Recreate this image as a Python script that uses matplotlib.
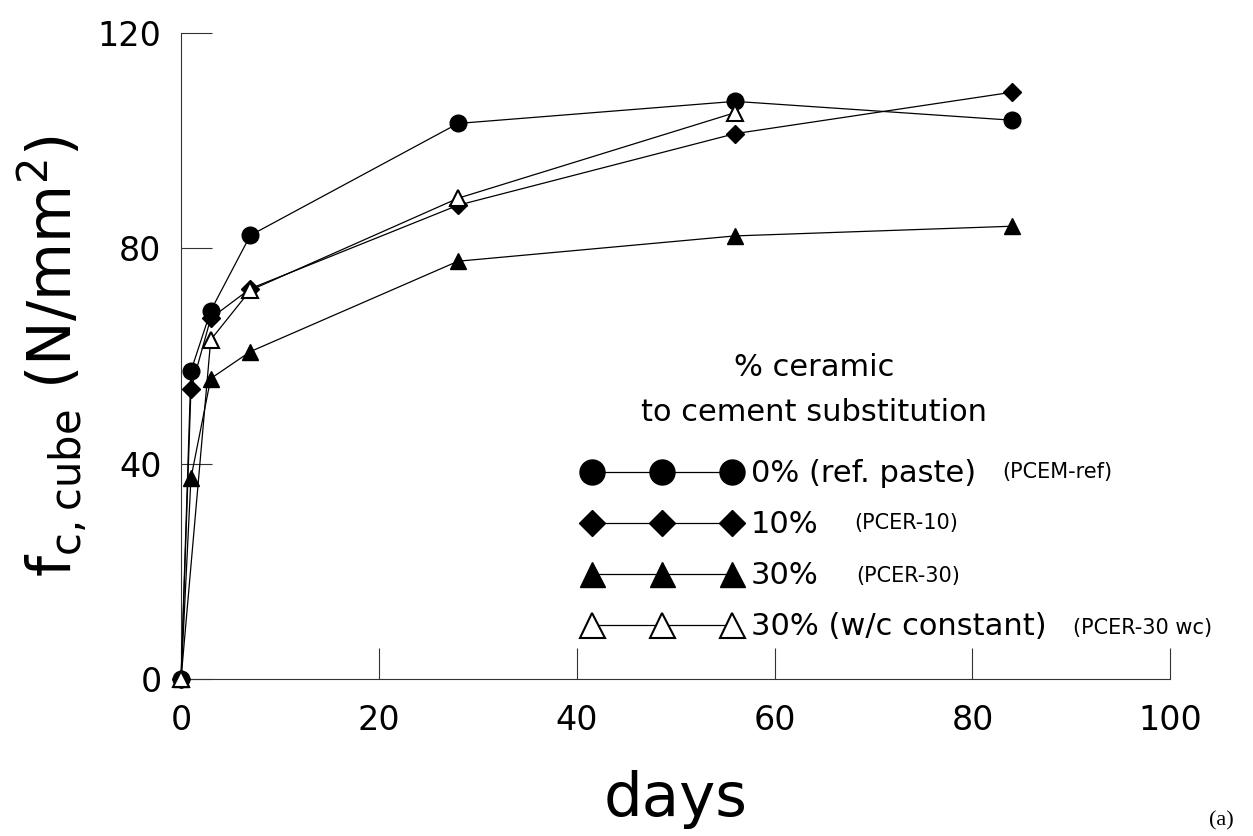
import matplotlib
matplotlib.use("Agg")
import matplotlib.pyplot as plt

# compressive strength vs age
days_ref = [0, 1, 3, 7, 28, 56, 84]
fc_ref = [0, 57.2, 68.4, 82.4, 103.2, 107.3, 103.8]

days_10 = [0, 1, 3, 7, 28, 56, 84]
fc_10 = [0, 53.8, 67.0, 72.5, 88.0, 101.3, 109.0]

days_30 = [0, 1, 3, 7, 28, 56, 84]
fc_30 = [0, 37.3, 55.8, 60.8, 77.6, 82.3, 84.1]

days_30wc = [0, 3, 7, 28, 56]
fc_30wc = [0, 63.0, 72.2, 89.3, 105.2]

labels = ["0% (ref. paste)", "10%", "30%", "30% (w/c constant)"]
codes = ["(PCEM-ref)", "(PCER-10)", "(PCER-30)", "(PCER-30 wc)"]

plt.rcParams['font.family'] = ['DejaVu Sans']
fig = plt.figure(figsize=(12.53, 8.36), dpi=100)
ax = fig.add_axes([0.1445, 0.188, 0.7895, 0.7725])

kw = dict(color='black', linewidth=0.9, clip_on=False, zorder=3)
l1, = ax.plot(days_ref, fc_ref, marker='o', markersize=12, **kw)
l2, = ax.plot(days_10, fc_10, marker='D', markersize=9, **kw)
l3, = ax.plot(days_30, fc_30, marker='^', markersize=12, **kw)
l4, = ax.plot(days_30wc, fc_30wc, marker='^', markersize=12,
              markerfacecolor='white', markeredgewidth=1.5, **kw)

ax.set_xlim(0, 100)
ax.set_ylim(0, 120)
ax.set_xticks([0, 20, 40, 60, 80, 100])
ax.set_yticks([0, 40, 80, 120])
ax.spines['top'].set_visible(False)
ax.spines['right'].set_visible(False)
for s in ['left', 'bottom']:
    ax.spines[s].set_color('#333333')
    ax.spines[s].set_linewidth(0.8)
ax.tick_params(axis='both', direction='in', length=22, width=0.8,
               color='#333333', labelsize=24)
ax.tick_params(axis='x', pad=18)
ax.tick_params(axis='y', pad=14)

ax.set_xlabel('days', fontsize=44, labelpad=24)
ax.set_ylabel(r'f$_{\rm c,cube}$ (N/mm$^2$)', fontsize=43, labelpad=6)

leg = ax.legend([l1, l2, l3, l4], labels, loc='lower left',
                bbox_to_anchor=(0.465, 0.233), bbox_transform=fig.transFigure,
                borderpad=0, borderaxespad=0,
                frameon=False, numpoints=3,
                handlelength=5.2, fontsize=22, markerscale=1.5,
                handletextpad=0.3, labelspacing=0.72)

# legend heading
fig.text(0.650, 0.561, '% ceramic', fontsize=22, ha='center', va='center')
fig.text(0.650, 0.506, 'to cement substitution', fontsize=22,
         ha='center', va='center')

code_x = [0.800, 0.682, 0.683, 0.856]
code_y = [0.435, 0.374, 0.311, 0.249]
for c, cx, cy in zip(codes, code_x, code_y):
    fig.text(cx, cy, c, fontsize=15, va='center')

fig.text(0.985, 0.018, '(a)', fontsize=16, family='Liberation Serif',
         ha='right', va='center')

fig.savefig('out.png', dpi=100)
